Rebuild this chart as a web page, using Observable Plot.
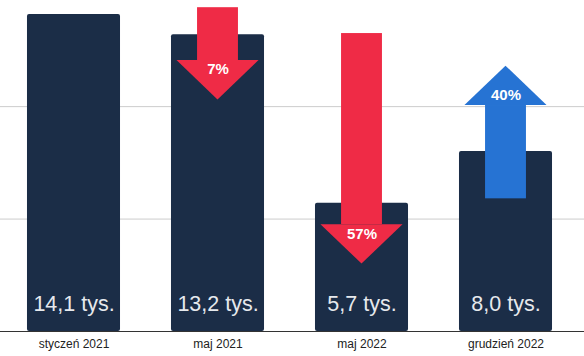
<!DOCTYPE html>
<html>
<head>
<meta charset="utf-8">
<script src="https://cdn.jsdelivr.net/npm/d3@7"></script>
<script src="https://cdn.jsdelivr.net/npm/@observablehq/plot@0.6"></script>
<style>
  html, body { margin: 0; padding: 0; background: #ffffff; }
  #chart svg { display: block; }
</style>
</head>
<body>
<div id="chart"></div>
<script>
// ---- data ----
const categories = ["styczeń 2021", "maj 2021", "maj 2022", "grudzień 2022"];
const values = [14.1, 13.2, 5.7, 8.0];
const valueLabels = ["14,1 tys.", "13,2 tys.", "5,7 tys.", "8,0 tys."];

const arrowCategories = ["maj 2021", "maj 2022", "grudzień 2022"];
const arrowFrom = [14.4, 13.25, 5.9];
const arrowTo = [10.3, 3.0, 11.8];
const arrowLabels = ["7%", "57%", "40%"];
const arrowDirection = ["down", "down", "up"];

const gridTicks = [5, 10];

// ---- styles ----
const NAVY = "#1b2d47";
const RED = "#ef2b46";
const BLUE = "#2673d3";
const BAR_HALF = 0.323;     // in band units
const SHAFT_HALF = 0.142;
const HEAD_HALF = 0.285;
const HEAD_LEN = 1.75;      // in value units

const bars = categories.map((c, i) => ({i, value: values[i], label: valueLabels[i]}));
const arrows = arrowCategories.map((c, k) => {
  const i = categories.indexOf(c);
  const down = arrowDirection[k] === "down";
  const base = down ? arrowTo[k] + HEAD_LEN : arrowTo[k] - HEAD_LEN;
  return {k, i, from: arrowFrom[k], to: arrowTo[k], base, down, label: arrowLabels[k],
          color: down ? RED : BLUE};
});
const heads = arrows.flatMap(a => [
  {k: a.k, y: a.base, x1: a.i - HEAD_HALF, x2: a.i + HEAD_HALF, color: a.color},
  {k: a.k, y: a.to, x1: a.i, x2: a.i, color: a.color}
]);

const W = 584, H = 356;
const xLeft = -0.5 - 1.5 / 144, xRight = 3.5 + 6.5 / 144;

const chart = Plot.plot({
  width: W,
  height: H,
  marginTop: 0,
  marginBottom: 25,
  marginLeft: 1.5,
  marginRight: 6.5,
  style: {fontFamily: "'Liberation Sans', Arial, sans-serif", background: "#ffffff"},
  x: {type: "linear", domain: [-0.5, 3.5], axis: null},
  y: {domain: [0, 14.72], axis: null},
  marks: [
    Plot.ruleY(gridTicks, {x1: xLeft, x2: xRight, stroke: "#cccccc", strokeWidth: 1}),
    Plot.rect(bars, {
      x1: d => d.i - BAR_HALF, x2: d => d.i + BAR_HALF, y1: 0, y2: "value",
      fill: NAVY, rx: 2
    }),
    Plot.rect(arrows, {
      x1: d => d.i - SHAFT_HALF, x2: d => d.i + SHAFT_HALF, y1: "from", y2: "base",
      fill: "color"
    }),
    Plot.areaX(heads, {x1: "x1", x2: "x2", y: "y", z: "k", fill: "color", curve: "linear"}),
    Plot.text(arrows.filter(a => a.down), {
      x: "i", y: "base", text: "label", dy: 9,
      fill: "#ffffff", fontWeight: "bold", fontSize: 15
    }),
    Plot.text(arrows.filter(a => !a.down), {
      x: "i", y: "base", text: "label", dy: -10,
      fill: "#ffffff", fontWeight: "bold", fontSize: 15
    }),
    Plot.text(bars, {
      x: "i", y: () => 0, text: "label", dy: -27,
      fill: "#e6e9ed", fontSize: 21.5
    }),
    Plot.ruleY([0], {x1: xLeft, x2: xRight, stroke: "#333333", strokeWidth: 1.2}),
    Plot.axisX([0, 1, 2, 3], {
      tickFormat: i => categories[i], tickSize: 0, tickPadding: 8,
      fontSize: 12, fill: "#222222", label: null
    })
  ]
});

document.getElementById("chart").appendChild(chart);
</script>
</body>
</html>
